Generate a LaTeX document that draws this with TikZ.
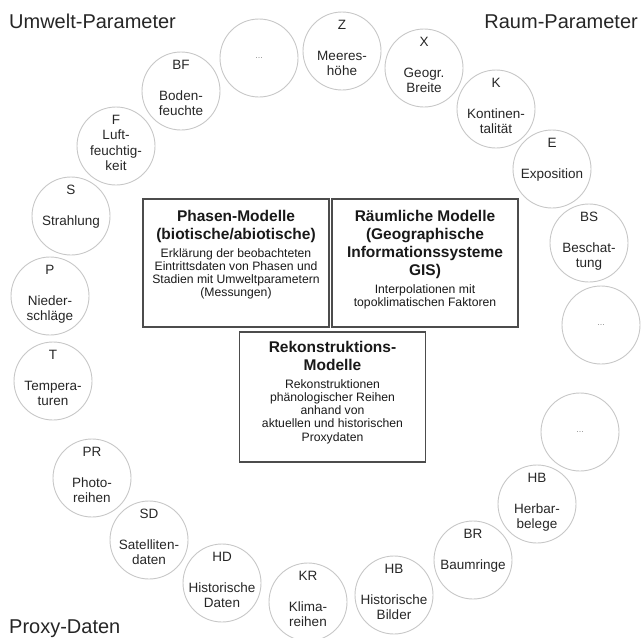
\documentclass[tikz,border=0pt]{standalone}
\usepackage{fontspec}
\setmainfont{Liberation Sans}
\usetikzlibrary{positioning}

\newcommand{\ctext}[3][15.5pt]{\raisebox{22pt}[0pt][0pt]{\parbox[t]{76pt}{\centering #2\\[#1]#3}}}
\newcommand{\mtext}[3][6pt]{\parbox[c][118pt][t]{176pt}{\centering\vspace*{#1}
  {\fontsize{15.5}{18}\selectfont\bfseries #2\par}\vspace{4.5pt}
  {\fontsize{12.2}{13.3}\selectfont #3\par}}}

\begin{document}
\begin{tikzpicture}[
  x=1pt, y=-1pt,
  circ/.style={draw=black!22, line width=0.9pt, circle, minimum size=78pt, inner sep=0pt,
    align=center, font=\fontsize{13.5}{15.5}\selectfont, text=black!85},
  etc/.style={circ, font=\fontsize{9}{10}\selectfont, text=black!45},
  modbox/.style={draw=black!70, line width=1.6pt, minimum width=186pt, minimum height=128pt,
    inner sep=4pt, text=black!90},
  hdr/.style={font=\fontsize{20}{24}\selectfont, text=black!85, inner sep=0pt}
]
  \useasboundingbox (0,0) rectangle (642,637);

  % headings
  \node[hdr, anchor=base west] (umwelt) at (9,28) {Umwelt-Parameter};
  \node[hdr, anchor=base east] (raum) at (638,28) {Raum-Parameter};
  \node[hdr, anchor=base west] (proxy) at (9,633) {Proxy-Daten};

  % Umwelt-Parameter
  \node[circ] (t) at (53,381) {\ctext{T}{Tempera-\\turen}};
  \node[circ] (p) at (50,296) {\ctext{P}{Nieder-\\schläge}};
  \node[circ] (s) at (71,216) {\ctext{S}{Strahlung}};
  \node[circ] (f) at (116,146) {\ctext[0pt]{F}{Luft-\\feuchtig-\\keit}};
  \node[circ] (bf) at (181,91) {\ctext{BF}{Boden-\\feuchte}};
  \node[etc] (u1) at (259,58) {...};

  % Raum-Parameter
  \node[circ] (z) at (342,51) {\ctext{Z}{Meeres-\\höhe}};
  \node[circ] (x) at (424,68) {\ctext{X}{Geogr.\\Breite}};
  \node[circ] (k) at (496,109) {\ctext{K}{Kontinen-\\talität}};
  \node[circ] (e) at (552,169) {\ctext{E}{Exposition}};
  \node[circ] (bs) at (589,243) {\ctext{BS}{Beschat-\\tung}};
  \node[etc] (r1) at (601,325) {...};

  % Proxy-Daten
  \node[etc] (x1) at (580,432) {...};
  \node[circ] (hb) at (537,504) {\ctext{HB}{Herbar-\\belege}};
  \node[circ] (br) at (473,560) {\ctext{BR}{Baumringe}};
  \node[circ] (hbb) at (394,595) {\ctext{HB}{Historische\\Bilder}};
  \node[circ] (kr) at (308,602) {\ctext{KR}{Klima-\\reihen}};
  \node[circ] (hd) at (222,583) {\ctext{HD}{Historische\\Daten}};
  \node[circ] (sd) at (149,540) {\ctext{SD}{Satelliten-\\daten}};
  \node[circ] (pr) at (92,478) {\ctext{PR}{Photo-\\reihen}};

  % Modelle
  \node[modbox] (phasen) at (236,263) {\mtext{Phasen-Modelle\\(biotische/abiotische)}{Erklärung der beobachteten\\Eintrittsdaten von Phasen und\\Stadien mit Umweltparametern\\(Messungen)}};
  \node[modbox] (raeum) at (425,263) {\mtext{Räumliche Modelle\\(Geographische\\Informationssysteme\\GIS)}{Interpolationen mit\\topoklimatischen Faktoren}};
  \node[modbox, minimum height=130pt] (rekon) at (332.5,397) {\mtext[3pt]{Rekonstruktions-\\Modelle}{Rekonstruktionen\\phänologischer Reihen\\anhand von\\aktuellen und historischen\\Proxydaten}};
\end{tikzpicture}
\end{document}
